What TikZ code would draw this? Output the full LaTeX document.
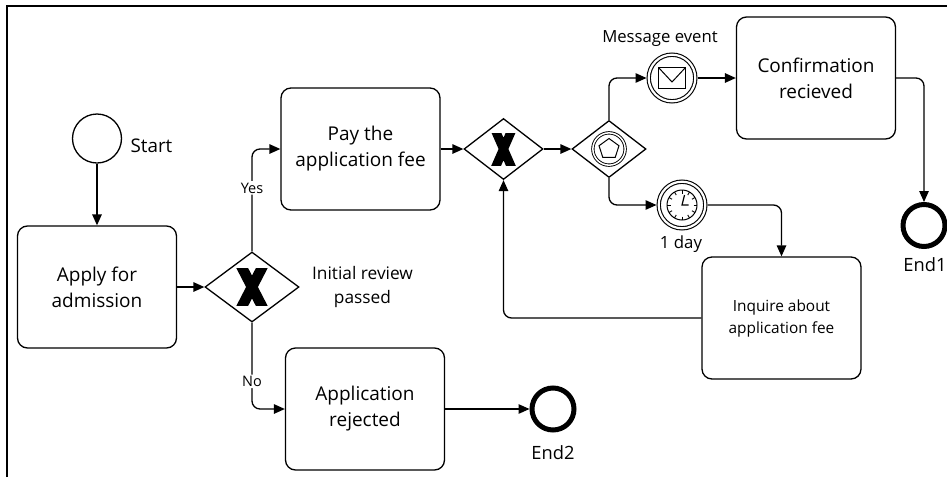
\documentclass[tikz,border=0pt]{standalone}
\usepackage{fontspec}
\setmainfont{Open Sans}
\usetikzlibrary{shapes.geometric, arrows.meta, positioning, calc}
\tikzstyle{task} = [rectangle, rounded corners=10pt, minimum width=159pt, minimum height=122pt, align=center, draw=black, line width=1.3pt, font=\fontsize{19}{26}\selectfont]
\tikzstyle{smalltask} = [task, font=\fontsize{15.4}{22}\selectfont]
\tikzstyle{gateway} = [diamond, draw=black, line width=1.3pt, inner sep=0pt]
\tikzstyle{startev} = [circle, draw=black, line width=1.3pt, minimum size=49pt, inner sep=0pt]
\tikzstyle{midev} = [circle, draw=black, line width=1.1pt, double, double distance=2.2pt, minimum size=46.6pt, inner sep=0pt, outer sep=2.2pt]
\tikzstyle{endev} = [circle, draw=black, line width=5pt, minimum size=42pt, inner sep=0pt]
\tikzstyle{lbl} = [inner sep=1pt, align=center, font=\fontsize{17.3}{24}\selectfont]
\tikzstyle{yesno} = [fill=white, inner sep=1.5pt, font=\fontsize{14.5}{18}\selectfont]
\tikzstyle{arrow} = [line width=1.3pt, rounded corners=8pt, -{Triangle[length=11pt,width=9.5pt]}]

\begin{document}
\begin{tikzpicture}[x=1pt, y=-1pt, on grid]
\useasboundingbox (0,0) rectangle (947,477);

% Frame
\draw [line width=2.3pt] (7,477) -- (7,6) -- (947,6);

% Start and first task
\node (start) [startev] at (97,138.5) {};
\node (apply) [task, below=148.5pt of start] {Apply for\\admission};

% Initial review gateway
\node (gw1) [gateway, minimum width=94pt, minimum height=70pt, right=155pt of apply] {};
\node (pay) [task, above right=138pt and 108.5pt of gw1] {Pay the\\application fee};
\node (rejected) [task, below right=122pt and 113pt of gw1] {Application\\rejected};
\node (end2) [endev, right=188pt of rejected] {};

% Payment loop
\node (gw2) [gateway, minimum width=79pt, minimum height=61pt, right=143pt of pay] {};
\node (gw3) [gateway, minimum width=74pt, minimum height=57pt, right=105.5pt of gw2] {};
\node (gw3ring) [circle, draw=black, line width=0.9pt, double, double distance=1.5pt, minimum size=32.3pt, inner sep=0pt] at (gw3) {};
\node (gw3pent) [regular polygon, regular polygon sides=5, draw=black, line width=1pt, minimum size=21pt, inner sep=0pt] at (gw3) {};
\node (msg) [midev, above right=71pt and 63pt of gw3] {};
\node (confirm) [task, right=144pt of msg] {Confirmation\\recieved};
\node (end1) [endev, below right=147.5pt and 108pt of confirm] {};
\node (timer) [midev, below right=56pt and 73pt of gw3] {};
\node (inquire) [smalltask, below right=113pt and 99.5pt of timer] {Inquire about\\application fee};

% Labels
\node (startlbl) [lbl, font=\fontsize{18.8}{24}\selectfont] at (151.5,146) {Start};
\node (reviewlbl) [lbl] at (362.5,287) {Initial review\\passed};
\node (msglbl) [lbl, font=\fontsize{16.7}{22}\selectfont] at (660,39) {Message event};
\node (daylbl) [lbl, font=\fontsize{16.8}{22}\selectfont] at (681,244) {1 day};
\node (end1lbl) [lbl, font=\fontsize{18.3}{24}\selectfont] at (925,265) {End1};
\node (end2lbl) [lbl, font=\fontsize{18.3}{24}\selectfont] at (553,453) {End2};

% X markers
\begin{scope}[shift={(gw1)}]
  \clip (-16,-18.5) rectangle (16,18.5);
  \draw [line width=10.5pt] (-12.4,-24) -- (12.4,24) (12.4,-24) -- (-12.4,24);
\end{scope}
\begin{scope}[shift={(gw2)}]
  \clip (-12.5,-16) rectangle (12.5,16);
  \draw [line width=9pt] (-9.1,-20.8) -- (9.1,20.8) (9.1,-20.8) -- (-9.1,20.8);
\end{scope}

% Envelope
\begin{scope}[shift={(msg)}, line width=1pt]
  \draw (-13.5,-10.5) rectangle (13.5,10.5);
  \draw (-13.5,-10.5) -- (0,4) -- (13.5,-10.5);
\end{scope}

% Clock
\begin{scope}[shift={(timer)}]
  \draw [line width=1pt] (0,0) circle[radius=15pt];
  \foreach \a in {0,30,...,330}
    \draw [line width=0.9pt] (\a:11.5pt) -- (\a:15pt);
  \draw [line width=1.2pt] (2.5,-10) -- (0,0) -- (6.5,0);
\end{scope}

% Arrows
\draw [arrow] (start) -- (apply);
\draw [arrow] (apply) -- (gw1);
\draw [arrow] (gw1.north) |- node (yeslbl) [yesno, pos=0.31] {Yes} (pay.west);
\draw [arrow] (gw1.south) |- node (nolbl) [yesno, pos=0.34] {No} (rejected.west);
\draw [arrow] (rejected) -- (end2);
\draw [arrow] (pay) -- (gw2);
\draw [arrow] (gw2) -- (gw3);
\draw [arrow] (gw3.north) |- (msg.west);
\draw [arrow] (msg) -- (confirm);
\draw [arrow] (confirm.east) -| (end1.north);
\draw [arrow] (gw3.south) |- (timer.west);
\draw [arrow] (timer.east) -| (inquire.north);
\draw [arrow] (inquire.west) -| (gw2.south);

\end{tikzpicture}
\end{document}
